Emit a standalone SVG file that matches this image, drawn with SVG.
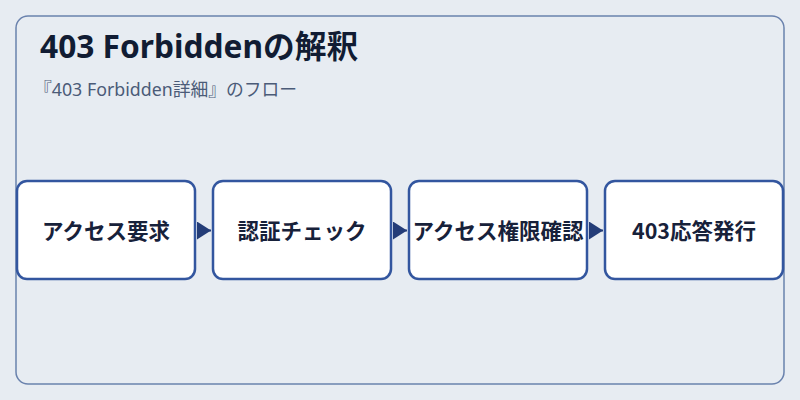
<svg xmlns="http://www.w3.org/2000/svg" width="800" height="400" viewBox="0 0 800 400">
  <defs>
    <style>
      .panel { fill: #e7ecf2; stroke: #6a82ad; stroke-width: 1.5; }
      .box { fill: #ffffff; stroke: #33569f; stroke-width: 2.5; }
      .label { font-family: "Noto Sans CJK JP", "Noto Sans", sans-serif; font-weight: bold; font-size: 21.5px; fill: #17213a; text-anchor: middle; }
      .title { font-family: "Noto Sans", "Noto Sans CJK JP", sans-serif; font-weight: bold; font-size: 31.7px; fill: #111c33; }
      .sub { font-family: "Noto Sans", "Noto Sans CJK JP", sans-serif; font-size: 17.8px; fill: #4b5b78; }
      .conn { stroke: #243d78; stroke-width: 2; fill: none; }
    </style>
    <marker id="arrow" viewBox="0 0 14 18" refX="14" refY="9" markerWidth="14" markerHeight="18" markerUnits="userSpaceOnUse" orient="auto">
      <path d="M0,0 L14,9 L0,18 Z" fill="#243d78"/>
    </marker>
  </defs>
  <rect width="800" height="400" fill="#e7ecf2"/>
  <rect class="panel" x="16" y="16" width="768" height="368" rx="12"/>
  <text class="title" x="40" y="58">403 Forbiddenの解釈</text>
  <text class="sub" x="34" y="96">『403 Forbidden詳細』のフロー</text>
  <g id="connectors">
    <line class="conn" x1="197" y1="230.5" x2="211" y2="230.5" marker-end="url(#arrow)"/>
    <line class="conn" x1="393" y1="230.5" x2="407" y2="230.5" marker-end="url(#arrow)"/>
    <line class="conn" x1="589" y1="230.5" x2="603" y2="230.5" marker-end="url(#arrow)"/>
  </g>
  <g id="node1">
    <rect class="box" x="17" y="181" width="178" height="98" rx="10"/>
    <text class="label" x="106" y="239">アクセス要求</text>
  </g>
  <g id="node2">
    <rect class="box" x="213" y="181" width="178" height="98" rx="10"/>
    <text class="label" x="302" y="239">認証チェック</text>
  </g>
  <g id="node3">
    <rect class="box" x="409" y="181" width="178" height="98" rx="10"/>
    <text class="label" x="498" y="239">アクセス権限確認</text>
  </g>
  <g id="node4">
    <rect class="box" x="605" y="181" width="178" height="98" rx="10"/>
    <text class="label" x="694" y="239">403応答発行</text>
  </g>
</svg>
